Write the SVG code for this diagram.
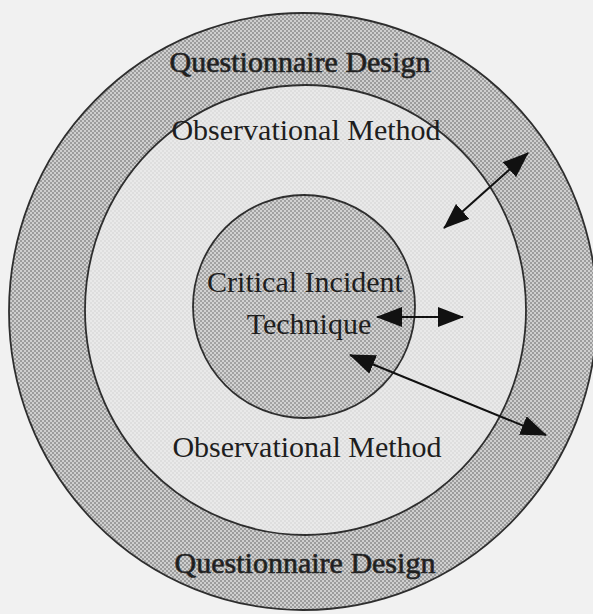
<svg xmlns="http://www.w3.org/2000/svg" width="593" height="614" viewBox="0 0 593 614">
  <style>
    .ring { stroke: #2e2e2e; stroke-width: 1.8; }
    .lbl { font-family: "Liberation Serif", "Times New Roman", serif; font-size: 30px; fill: #1e1e1e; text-anchor: middle; }
    .bold { stroke: #2a2a2a; stroke-width: 0.7; }
    .conn { stroke: #111; stroke-width: 2; fill: none; marker-start: url(#head); marker-end: url(#head); }
  </style>
  <defs>
    <pattern id="dots" width="4" height="4" patternUnits="userSpaceOnUse">
      <rect width="4" height="4" fill="#cfcfcf"/>
      <rect x="0" y="0" width="2" height="2" fill="#9c9c9c"/>
      <rect x="2" y="2" width="2" height="2" fill="#9c9c9c"/>
    </pattern>
    <pattern id="dots2" width="4" height="4" patternUnits="userSpaceOnUse">
      <rect width="4" height="4" fill="#d2d2d2"/>
      <rect x="0" y="0" width="2" height="2" fill="#a2a2a2"/>
      <rect x="2" y="2" width="2" height="2" fill="#a2a2a2"/>
    </pattern>
    <pattern id="light" width="4" height="4" patternUnits="userSpaceOnUse">
      <rect width="4" height="4" fill="#e9e9e9"/>
      <rect x="0" y="0" width="2" height="2" fill="#dedede"/>
      <rect x="2" y="2" width="2" height="2" fill="#dedede"/>
    </pattern>
    <marker id="head" viewBox="0 0 26 20" refX="25" refY="10" markerWidth="26" markerHeight="20" markerUnits="userSpaceOnUse" orient="auto-start-reverse">
      <path d="M0,0 L26,10 L0,20 Z" fill="#111"/>
    </marker>
  </defs>

  <rect width="593" height="614" fill="#f1f1f1"/>

  <g id="questionnaire-design">
    <ellipse class="ring" cx="303" cy="311.5" rx="294" ry="298.5" fill="url(#dots)"/>
    <text class="lbl bold" x="300" y="72">Questionnaire Design</text>
    <text class="lbl bold" x="305" y="573">Questionnaire Design</text>
  </g>

  <g id="observational-method">
    <ellipse class="ring" cx="305.5" cy="310" rx="220.5" ry="225" fill="url(#light)"/>
    <text class="lbl" x="306" y="140">Observational Method</text>
    <text class="lbl" x="307" y="457">Observational Method</text>
  </g>

  <g id="critical-incident-technique">
    <ellipse class="ring" cx="304" cy="306.5" rx="111" ry="111.5" fill="url(#dots2)"/>
    <text class="lbl" x="305" y="292">Critical Incident</text>
    <text class="lbl" x="309" y="334">Technique</text>
  </g>

  <g id="connectors">
    <line class="conn" x1="444" y1="228" x2="528" y2="153"/>
    <line class="conn" x1="377" y1="317" x2="463" y2="317"/>
    <line class="conn" x1="350" y1="355" x2="546" y2="435"/>
  </g>
</svg>
